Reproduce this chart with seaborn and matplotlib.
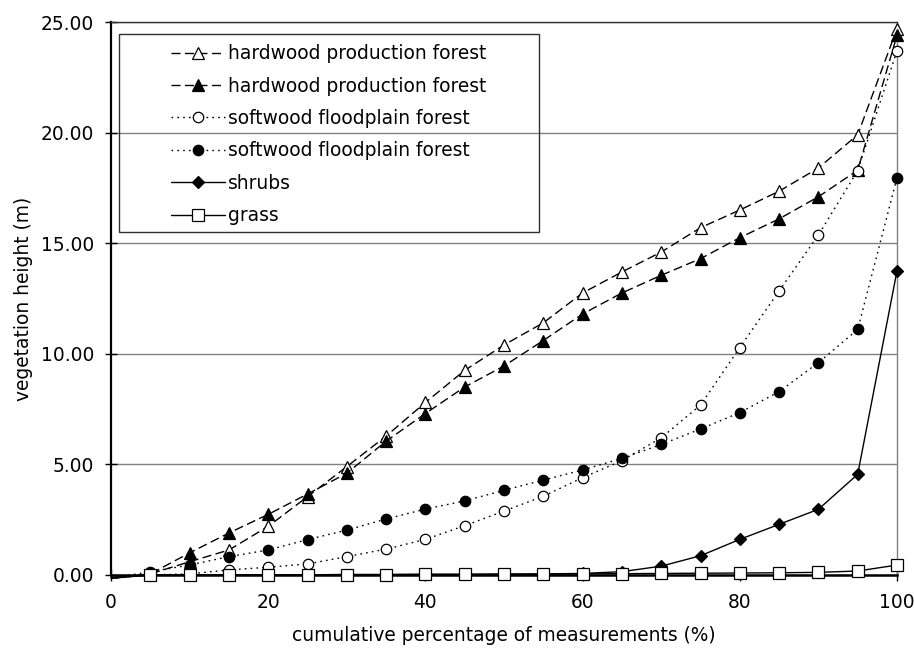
import numpy as np
import pandas as pd
import seaborn as sns
import matplotlib
matplotlib.use("Agg")
import matplotlib.pyplot as plt
import matplotlib.ticker as ticker
from matplotlib.patches import Rectangle

# cumulative percentage of measurements (%)
pct = [0, 5, 10, 15, 20, 25, 30, 35, 40, 45, 50, 55, 60, 65, 70, 75, 80, 85, 90, 95, 100]

# vegetation height (m)
hardwood_open = [-0.15, 0.05, 0.6, 1.13, 2.2, 3.54, 4.9, 6.28, 7.8, 9.25, 10.4,
                 11.4, 12.75, 13.7, 14.6, 15.7, 16.5, 17.35, 18.4, 19.9, 24.7]
hardwood_fill = [-0.15, 0.05, 1.0, 1.9, 2.74, 3.66, 4.6, 6.05, 7.3, 8.5, 9.45,
                 10.6, 11.8, 12.75, 13.55, 14.3, 15.25, 16.1, 17.1, 18.3, 24.4]
softwood_open = [-0.15, 0.0, 0.05, 0.23, 0.35, 0.5, 0.83, 1.17, 1.61, 2.23, 2.89,
                 3.56, 4.4, 5.17, 6.2, 7.68, 10.28, 12.84, 15.37, 18.28, 23.7]
softwood_fill = [-0.15, 0.15, 0.45, 0.83, 1.13, 1.6, 2.03, 2.53, 2.98, 3.35, 3.83,
                 4.29, 4.75, 5.27, 5.9, 6.6, 7.34, 8.29, 9.6, 11.1, 17.96]
shrubs = [-0.15, 0.0, 0.0, 0.01, 0.01, 0.01, 0.02, 0.02, 0.03, 0.03, 0.04,
          0.05, 0.07, 0.15, 0.4, 0.87, 1.61, 2.29, 2.97, 4.55, 13.75]
grass = [-0.1, 0.0, 0.0, 0.0, 0.01, 0.01, 0.02, 0.02, 0.03, 0.03, 0.04,
         0.04, 0.05, 0.06, 0.07, 0.08, 0.09, 0.1, 0.12, 0.18, 0.45]

labels = ["hardwood production forest", "hardwood production forest",
          "softwood floodplain forest", "softwood floodplain forest",
          "shrubs", "grass"]

sns.set_style("white")
plt.rcParams["font.family"] = ["DejaVu Sans"]
plt.rcParams["font.size"] = 13.4
plt.rcParams["text.color"] = "black"
plt.rcParams["axes.labelcolor"] = "black"
plt.rcParams["xtick.color"] = "black"
plt.rcParams["ytick.color"] = "black"

fig = plt.figure(figsize=(9.14, 6.54), dpi=100)
ax = fig.add_axes([111 / 914, 1 - 575 / 654, 786 / 914, 553 / 654])

dashed = (0, (6.5, 3.2))
dotted = (0, (1.2, 3.0))
styles = [
    dict(marker="^", markersize=8, markerfacecolor="white", linestyle=dashed),
    dict(marker="^", markersize=8, markerfacecolor="black", linestyle=dashed),
    dict(marker="o", markersize=7.5, markerfacecolor="white", linestyle=dotted),
    dict(marker="o", markersize=7.5, markerfacecolor="black", linestyle=dotted),
    dict(marker="D", markersize=6.3, markerfacecolor="black", linestyle="-"),
    dict(marker="s", markersize=8, markerfacecolor="white", linestyle="-"),
]
series = [hardwood_open, hardwood_fill, softwood_open, softwood_fill, shrubs, grass]

for vals, lab, st in zip(series, labels, styles):
    df = pd.DataFrame({"pct": pct, "height": vals})
    # no marker on the 0 % point
    sns.lineplot(data=df, x="pct", y="height", ax=ax, color="black",
                 linewidth=1.0, markeredgecolor="black", markeredgewidth=0.9,
                 markevery=list(range(1, len(pct))),
                 label=lab, clip_on=False, zorder=3, **st)

ax.set_xlim(0, 100)
ax.set_ylim(0, 25)
ax.xaxis.set_major_locator(ticker.MultipleLocator(20))
ax.yaxis.set_major_locator(ticker.MultipleLocator(5))
ax.yaxis.set_major_formatter(ticker.FormatStrFormatter("%.2f"))

# gridlines and frame
ax.grid(axis="y", color="#808080", linewidth=1.0)
ax.grid(axis="x", visible=False)
ax.spines["left"].set_color("black")
ax.spines["left"].set_linewidth(1.6)
ax.spines["bottom"].set_color("black")
ax.spines["bottom"].set_linewidth(1.8)
ax.spines["top"].set_color("#303030")
ax.spines["top"].set_linewidth(1.0)
ax.spines["right"].set_color("#808080")
ax.spines["right"].set_linewidth(1.0)

ax.tick_params(axis="both", direction="inout", length=8, width=1.0,
               color="black", labelsize=13.4, labelcolor="black")
ax.tick_params(axis="y", pad=8, left=True)
ax.tick_params(axis="x", pad=9, bottom=True)

ax.set_xlabel("cumulative percentage of measurements (%)", fontsize=13.4, labelpad=10)
ax.set_ylabel("vegetation height (m)", fontsize=13.4, labelpad=6)

# legend with its own box
handles, labs = ax.get_legend_handles_labels()
ax.legend(handles, labs, loc="upper left", bbox_to_anchor=(0.0763, 0.960),
          frameon=False, borderpad=0, borderaxespad=0, handlelength=2.9,
          handletextpad=0.15, labelspacing=0.72, fontsize=13.4)
ax.add_patch(Rectangle((8 / 786, 343 / 553), 420 / 786, 198 / 553,
                       transform=ax.transAxes, fill=False, edgecolor="#303030",
                       linewidth=1.0, zorder=4))

fig.savefig("out.png", dpi=100)
